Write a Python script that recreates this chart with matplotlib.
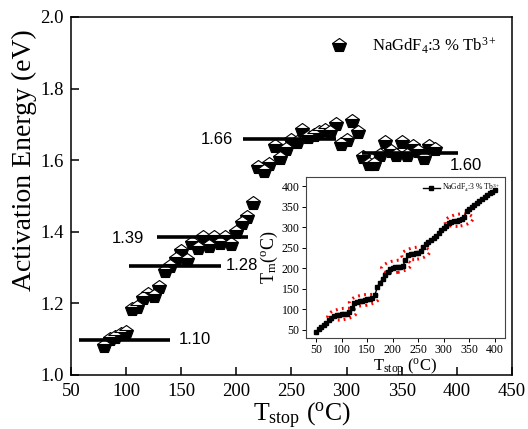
import numpy as np
import matplotlib
matplotlib.use("Agg")
import matplotlib.pyplot as plt
from matplotlib.patches import Ellipse

plt.rcParams['font.family'] = ['Liberation Serif', 'DejaVu Serif']
plt.rcParams['mathtext.fontset'] = 'custom'
plt.rcParams['mathtext.rm'] = 'Liberation Serif'
plt.rcParams['mathtext.it'] = 'Liberation Serif:italic'

# activation energy vs T_stop
t_stop = np.arange(80, 385, 5)
energy = [1.08, 1.10, 1.105, 1.115, 1.12, 1.185, 1.19, 1.215, 1.225, 1.22,
          1.245, 1.29, 1.305, 1.325, 1.345, 1.32, 1.37, 1.355, 1.385, 1.36,
          1.385, 1.37, 1.385, 1.365, 1.40, 1.425, 1.44, 1.48,
          1.58, 1.57, 1.59, 1.64, 1.605, 1.63, 1.655, 1.65, 1.685, 1.665,
          1.67, 1.68, 1.685, 1.68, 1.70, 1.645, 1.655, 1.71, 1.68, 1.61,
          1.59, 1.59, 1.615, 1.65, 1.625, 1.615, 1.65, 1.615, 1.64, 1.625,
          1.605, 1.64, 1.63]

# plateau levels: (label, x start, x end, y of line, label x, label y, align)
levels = [("1.10", 57, 140, 1.099, 148, 1.098, 'left'),
          ("1.28", 103, 186, 1.305, 190, 1.305, 'left'),
          ("1.39", 128, 211, 1.385, 116, 1.38, 'right'),
          ("1.66", 206, 290, 1.658, 197, 1.658, 'right'),
          ("1.60", 314, 401, 1.619, 394, 1.584, 'left')]

# inset: T_m vs T_stop
inset_x = np.arange(50, 405, 5)
inset_y = [45, 51, 57, 62, 67, 73, 78, 83, 86, 87, 88, 88, 89, 94, 102,
           115, 118, 120, 121, 122, 124, 125, 127, 134, 155, 165, 174, 183,
           191, 197, 201, 203, 204, 204, 206, 219, 231, 234, 235, 236, 238,
           242, 252, 258, 263, 268, 273, 279, 286, 292, 297, 303, 310, 313,
           314, 316, 318, 320, 324, 340, 343, 348, 353, 358, 363, 368, 373,
           378, 382, 386, 390]
# red dotted ellipses: centre x, centre y, width, height
rings = [(101, 88, 58, 27), (144, 122, 59, 26), (207, 204, 59, 29),
         (245, 236, 56, 29), (330, 317, 56, 29)]

fig = plt.figure(figsize=(5.28, 4.29), dpi=100)
ax = fig.add_axes([0.1345, 0.1259, 0.835, 0.8345])

ax.plot(t_stop, energy, linestyle='none', marker='p', markersize=10.5,
        fillstyle='bottom', markerfacecolor='black', markerfacecoloralt='white',
        markeredgecolor='black', markeredgewidth=0.8,
        label='NaGdF$_4$:3 % Tb$^{3+}$')

for lab, x0, x1, yl, tx, ty, ha in levels:
    ax.plot([x0, x1], [yl, yl], color='black', linewidth=2.6, solid_capstyle='butt')
    ax.text(tx, ty, lab, ha=ha, va='center', fontsize=12,
            family=['Liberation Sans', 'DejaVu Sans'])

ax.set_xlim(50, 450)
ax.set_ylim(1.0, 2.0)
ax.set_xticks(range(50, 451, 50))
ax.set_yticks([1.0, 1.2, 1.4, 1.6, 1.8, 2.0])
ax.set_yticklabels(['1.0', '1.2', '1.4', '1.6', '1.8', '2.0'])
ax.tick_params(direction='in', length=6, width=1.1, labelsize=13.5)
ax.tick_params(axis='x', pad=6)
ax.tick_params(axis='y', pad=5)
for sp in ax.spines.values():
    sp.set_linewidth(1.1)
ax.set_ylabel('Activation Energy (eV)', fontsize=20)
ax.yaxis.set_label_coords(-0.077, 0.6)
ax.set_xlabel(r'T$_{\rm stop}$ ($^{\rm o}$C)', fontsize=18.5)
ax.xaxis.set_label_coords(0.524, -0.071)
ax.legend(loc='upper right', frameon=False, fontsize=12, handletextpad=1.0,
          bbox_to_anchor=(1.0, 0.99))

ins = fig.add_axes([0.5795, 0.2121, 0.3769, 0.3753])
for cx, cy, w, h in rings:
    ins.add_patch(Ellipse((cx, cy), w, h, angle=12, fill=False, edgecolor='red',
                          linewidth=2.2, linestyle=(0, (0.6, 1.4))))
ins.plot(inset_x, inset_y, color='black', marker='s', markersize=2.6,
         linewidth=1.0, label='NaGdF$_4$:3 % Tb$^{3+}$')
ins.set_xlim(30, 420)
ins.set_ylim(30, 422)
ins.set_xticks(range(50, 401, 50))
ins.set_yticks(range(50, 401, 50))
ins.tick_params(direction='out', length=3, width=0.7, labelsize=8.5, pad=1.5)
for sp in ins.spines.values():
    sp.set_linewidth(0.8)
    sp.set_color('#444444')
ins.set_ylabel(r'T$_{\rm m}$($^{\rm o}$C)', fontsize=13, labelpad=1)
ins.set_xlabel(r'T$_{\rm stop}$ ($^{\rm o}$C)', fontsize=12, labelpad=0)
ins.legend(loc='upper right', frameon=False, fontsize=5.5, handlelength=2.2,
           borderaxespad=0.2, handletextpad=0.3)

fig.savefig('out.png', dpi=100)
